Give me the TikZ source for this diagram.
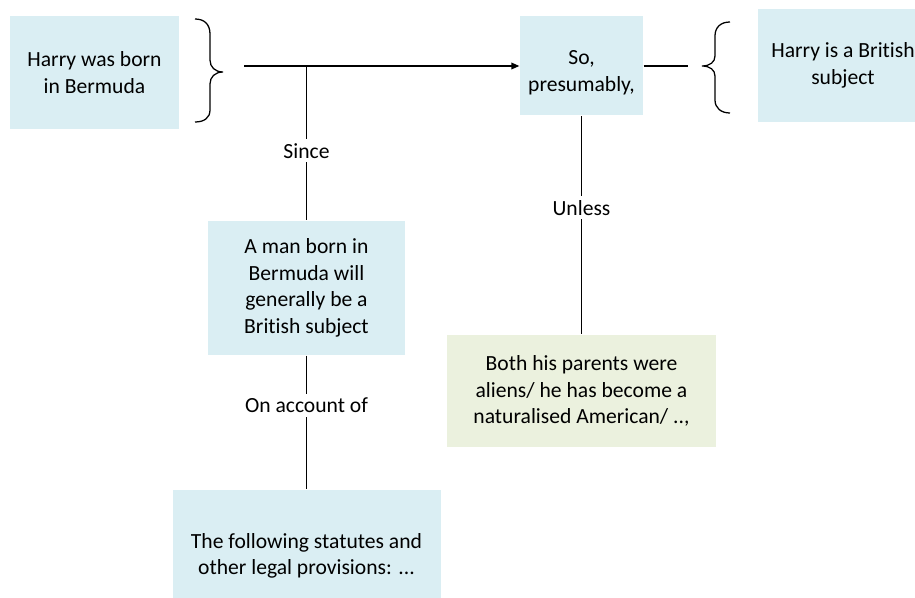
\documentclass[tikz,border=0pt]{standalone}
\usepackage{fontspec}
\setmainfont{Carlito}[Ligatures=NoCommon]
\usetikzlibrary{arrows.meta}

\tikzset{every picture/.style={line width=0.95pt}}
\tikzset{
  bluebox/.style={fill={rgb, 255:red, 218; green, 238; blue, 243 }, inner sep=0.75pt, align=center, font=\fontsize{16.2}{20}\selectfont},
  greenbox/.style={bluebox, fill={rgb, 255:red, 235; green, 241; blue, 222 }},
  boxtext/.style={inner sep=0.75pt, align=center, font=\fontsize{16.2}{20}\selectfont},
  linklabel/.style={fill=white, inner sep=3pt, font=\fontsize{16.2}{20}\selectfont},
}

\begin{document}
\begin{tikzpicture}[x=0.75pt,y=0.75pt,yscale=-1,xscale=1]
\useasboundingbox (0,0) rectangle (915,598);

% Text Node
\node (datum) at (94.5,72.5) [bluebox, minimum width=126.75pt, minimum height=84.75pt] {Harry was born\\in Bermuda};
% Text Node
\node (so) at (581.5,66) [bluebox, minimum width=92.25pt, minimum height=74.25pt] {};
\node (sotext) at (581.5,73) [boxtext] {So,\\presumably,};
% Text Node
\node (claim) at (843,65.5) [bluebox, minimum width=127.5pt, minimum height=84.75pt] {Harry is a British\\subject};
% Text Node
\node (warrant) at (306.5,288) [bluebox, minimum width=147.75pt, minimum height=100.5pt] {A man born in\\Bermuda will\\generally be a\\British subject};
% Text Node
\node (backing) at (306.5,556) [bluebox, minimum width=201pt, minimum height=99pt] {The following statutes and\\other legal provisions: ...};
% Text Node
\node (rebuttal) at (581.5,391) [greenbox, minimum width=201.75pt, minimum height=84pt] {Both his parents were\\aliens/ he has become a\\naturalised American/ ..,};

\coordinate (start) at (244,66);
\coordinate (branch) at (306.5,66);
\coordinate (tail) at (688,66);

%Shape: Brace [left]
\draw (195,19) .. controls (204,19) and (210,24) .. (210,34) -- (210,60) .. controls (210,67) and (215,72) .. (223,72) .. controls (215,72) and (210,77) .. (210,84) -- (210,110) .. controls (210,118) and (204,122) .. (195,122) ;
%Shape: Brace [right]
\draw (730,22) .. controls (721,22) and (715,27) .. (715,36) -- (715,56) .. controls (715,62) and (710,66) .. (702,66) .. controls (710,66) and (715,70) .. (715,76) -- (715,100) .. controls (715,108) and (721,113) .. (730,113) ;

%Straight Lines
\draw [-{Triangle[length=6pt,width=5pt]}] (start) -- (so.west) ;
\draw (so.east) -- (tail) ;
\draw (branch) -- node [linklabel, pos=0.55] {Since} (warrant.north) ;
\draw (so.south) -- node [linklabel, pos=0.42] {Unless} (rebuttal.north) ;
\draw (warrant.south) -- node [linklabel, pos=0.37] {On account of} (backing.north) ;

\end{tikzpicture}
\end{document}
